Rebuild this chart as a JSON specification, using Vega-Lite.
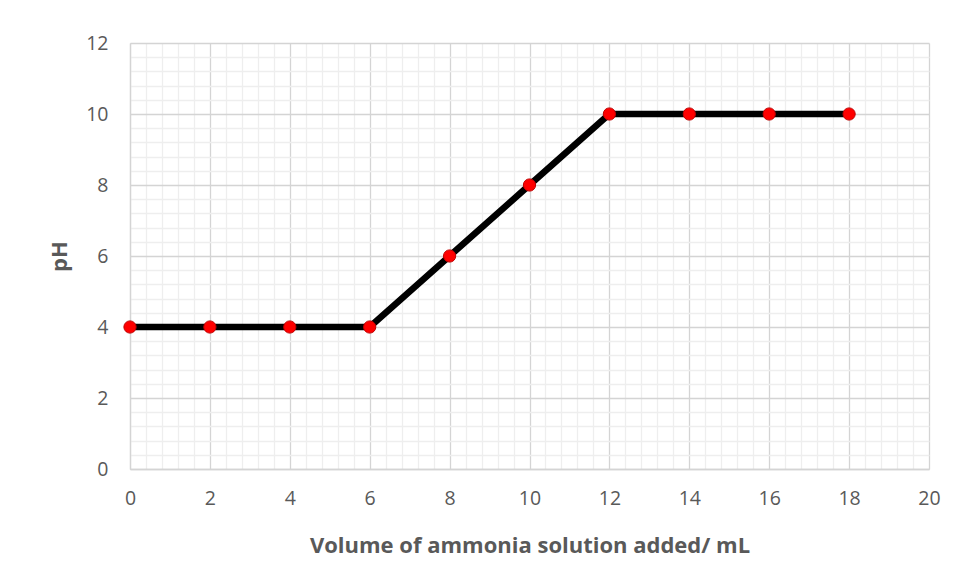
{
  "$schema": "https://vega.github.io/schema/vega-lite/v6.json",
  "width": 799,
  "height": 426,
  "autosize": {"type": "none"},
  "padding": {"left": 130, "top": 43, "right": 29, "bottom": 113},
  "background": "white",
  "config": {
    "view": {"stroke": null},
    "font": "Open Sans",
    "axis": {"labelFont": "Open Sans", "titleFont": "Open Sans"}
  },
  "data": {
    "values": [
      {"volume": 0, "pH": 4},
      {"volume": 2, "pH": 4},
      {"volume": 4, "pH": 4},
      {"volume": 6, "pH": 4},
      {"volume": 8, "pH": 6},
      {"volume": 10, "pH": 8},
      {"volume": 12, "pH": 10},
      {"volume": 14, "pH": 10},
      {"volume": 16, "pH": 10},
      {"volume": 18, "pH": 10}
    ]
  },
  "encoding": {
    "x": {
      "field": "volume",
      "type": "quantitative",
      "scale": {"domain": [0, 20], "nice": false},
      "axis": {
        "title": "Volume of ammonia solution added/ mL",
        "values": [0,0.4,0.8,1.2,1.6,2,2.4,2.8,3.2,3.6,4,4.4,4.8,5.2,5.6,6,6.4,6.8,7.2,7.6,8,8.4,8.8,9.2,9.6,10,10.4,10.8,11.2,11.6,12,12.4,12.8,13.2,13.6,14,14.4,14.8,15.2,15.6,16,16.4,16.8,17.2,17.6,18,18.4,18.8,19.2,19.6,20],
        "labelExpr": "abs(datum.value - round(datum.value/2)*2) < 0.001 ? format(datum.value, 'd') : ''",
        "grid": true,
        "gridColor": {"condition": {"test": "abs(datum.value - round(datum.value/2)*2) < 0.001", "value": "#d4d4d4"}, "value": "#eeeeee"},
        "gridWidth": 1.3,
        "ticks": false,
        "domain": true,
        "domainColor": "#d4d4d4",
        "domainWidth": 1.5,
        "labelFontSize": 19.5,
        "labelColor": "#595959",
        "labelPadding": 20,
        "labelFlush": false,
        "labelOverlap": false,
        "titleFontSize": 22,
        "titleFontWeight": "bold",
        "titleColor": "#595959",
        "titlePadding": 28
      }
    },
    "y": {
      "field": "pH",
      "type": "quantitative",
      "scale": {"domain": [0, 12], "nice": false},
      "axis": {
        "title": "pH",
        "values": [0,0.4,0.8,1.2,1.6,2,2.4,2.8,3.2,3.6,4,4.4,4.8,5.2,5.6,6,6.4,6.8,7.2,7.6,8,8.4,8.8,9.2,9.6,10,10.4,10.8,11.2,11.6,12],
        "labelExpr": "abs(datum.value - round(datum.value/2)*2) < 0.001 ? format(datum.value, 'd') : ''",
        "grid": true,
        "gridColor": {"condition": {"test": "abs(datum.value - round(datum.value/2)*2) < 0.001", "value": "#d4d4d4"}, "value": "#eeeeee"},
        "gridWidth": 1.3,
        "ticks": false,
        "domain": true,
        "domainColor": "#d4d4d4",
        "domainWidth": 1.3,
        "labelFontSize": 19.5,
        "labelColor": "#595959",
        "labelPadding": 22,
        "labelFlush": false,
        "labelOverlap": false,
        "titleFontSize": 22,
        "titleFontWeight": "bold",
        "titleColor": "#595959",
        "titlePadding": 14
      }
    }
  },
  "layer": [
    {"mark": {"type": "line", "color": "black", "strokeWidth": 6.5}},
    {"mark": {"type": "point", "filled": true, "fill": "#ff0000", "stroke": "#c00000", "strokeWidth": 1, "size": 150, "opacity": 1}}
  ]
}
